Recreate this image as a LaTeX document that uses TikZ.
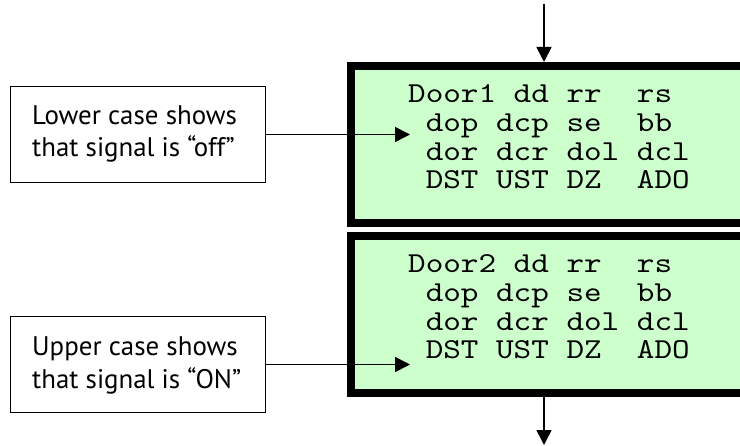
\documentclass[tikz,border=0pt]{standalone}
\usepackage{fontspec}
\newfontfamily\monofnt{lmmono10-regular.otf}[FakeStretch=1.16]
\newfontfamily\calloutfnt{PT Sans}
\usetikzlibrary{arrows.meta}
\definecolor{lcdgreen}{HTML}{CCFFCC}
\begin{document}
\begin{tikzpicture}[x=1bp,y=-1bp,
  lcd/.style={draw=black, line width=8bp, fill=lcdgreen, rectangle, inner sep=0pt,
    minimum width=429bp, minimum height=157bp},
  lcdtext/.style={anchor=base west, align=left, inner sep=0pt, text=black,
    font=\monofnt\fontsize{29}{29}\selectfont},
  callout/.style={draw=black, line width=1.5bp, rectangle, inner sep=0pt, fill=white,
    minimum width=255bp, minimum height=96bp},
  callouttext/.style={anchor=base west, align=left, inner sep=0pt, text=black,
    font=\calloutfnt\fontsize{27}{33}\selectfont},
  conn/.style={draw=black, line width=1.6bp, -{Triangle[width=15bp,length=15bp]}}
]
\useasboundingbox (0,0) rectangle (740,446);
\clip (0,0) rectangle (740,446);

% LCD boxes
\node[lcd] (box1) at (565.5,144.5) {};
\node[lcd] (box2) at (565.5,314.5) {};

% anchor = baseline of the last line
\node[lcdtext] (txt1) at (408,189) {Door1 dd rr~~rs\\~dop dcp se~~bb\\~dor dcr dol dcl\\~DST UST DZ~~ADO};
\node[lcdtext] (txt2) at (408,359) {Door2 dd rr~~rs\\~dop dcp se~~bb\\~dor dcr dol dcl\\~DST UST DZ~~ADO};

% callouts
\node[callout] (call1) at (138,134.5) {};
\node[callout] (call2) at (138,364.5) {};
\node[callouttext] (ctext1) at (32,157) {Lower case shows\\that signal is “off”};
\node[callouttext] (ctext2) at (32,388) {Upper case shows\\that signal is “ON”};

% connectors
\coordinate (tip1) at (410,135);
\coordinate (tip2) at (410,365);
\coordinate (topstart) at (544,4);
\coordinate (botend) at (544,445);

\draw[conn] (call1.east) -- (call1.east -| tip1);
\draw[conn] (call2.east) -- (call2.east -| tip2);
\draw[conn] (topstart) -- (topstart |- box1.north);
\draw[conn] (botend |- box2.south) -- (botend);
\end{tikzpicture}
\end{document}
